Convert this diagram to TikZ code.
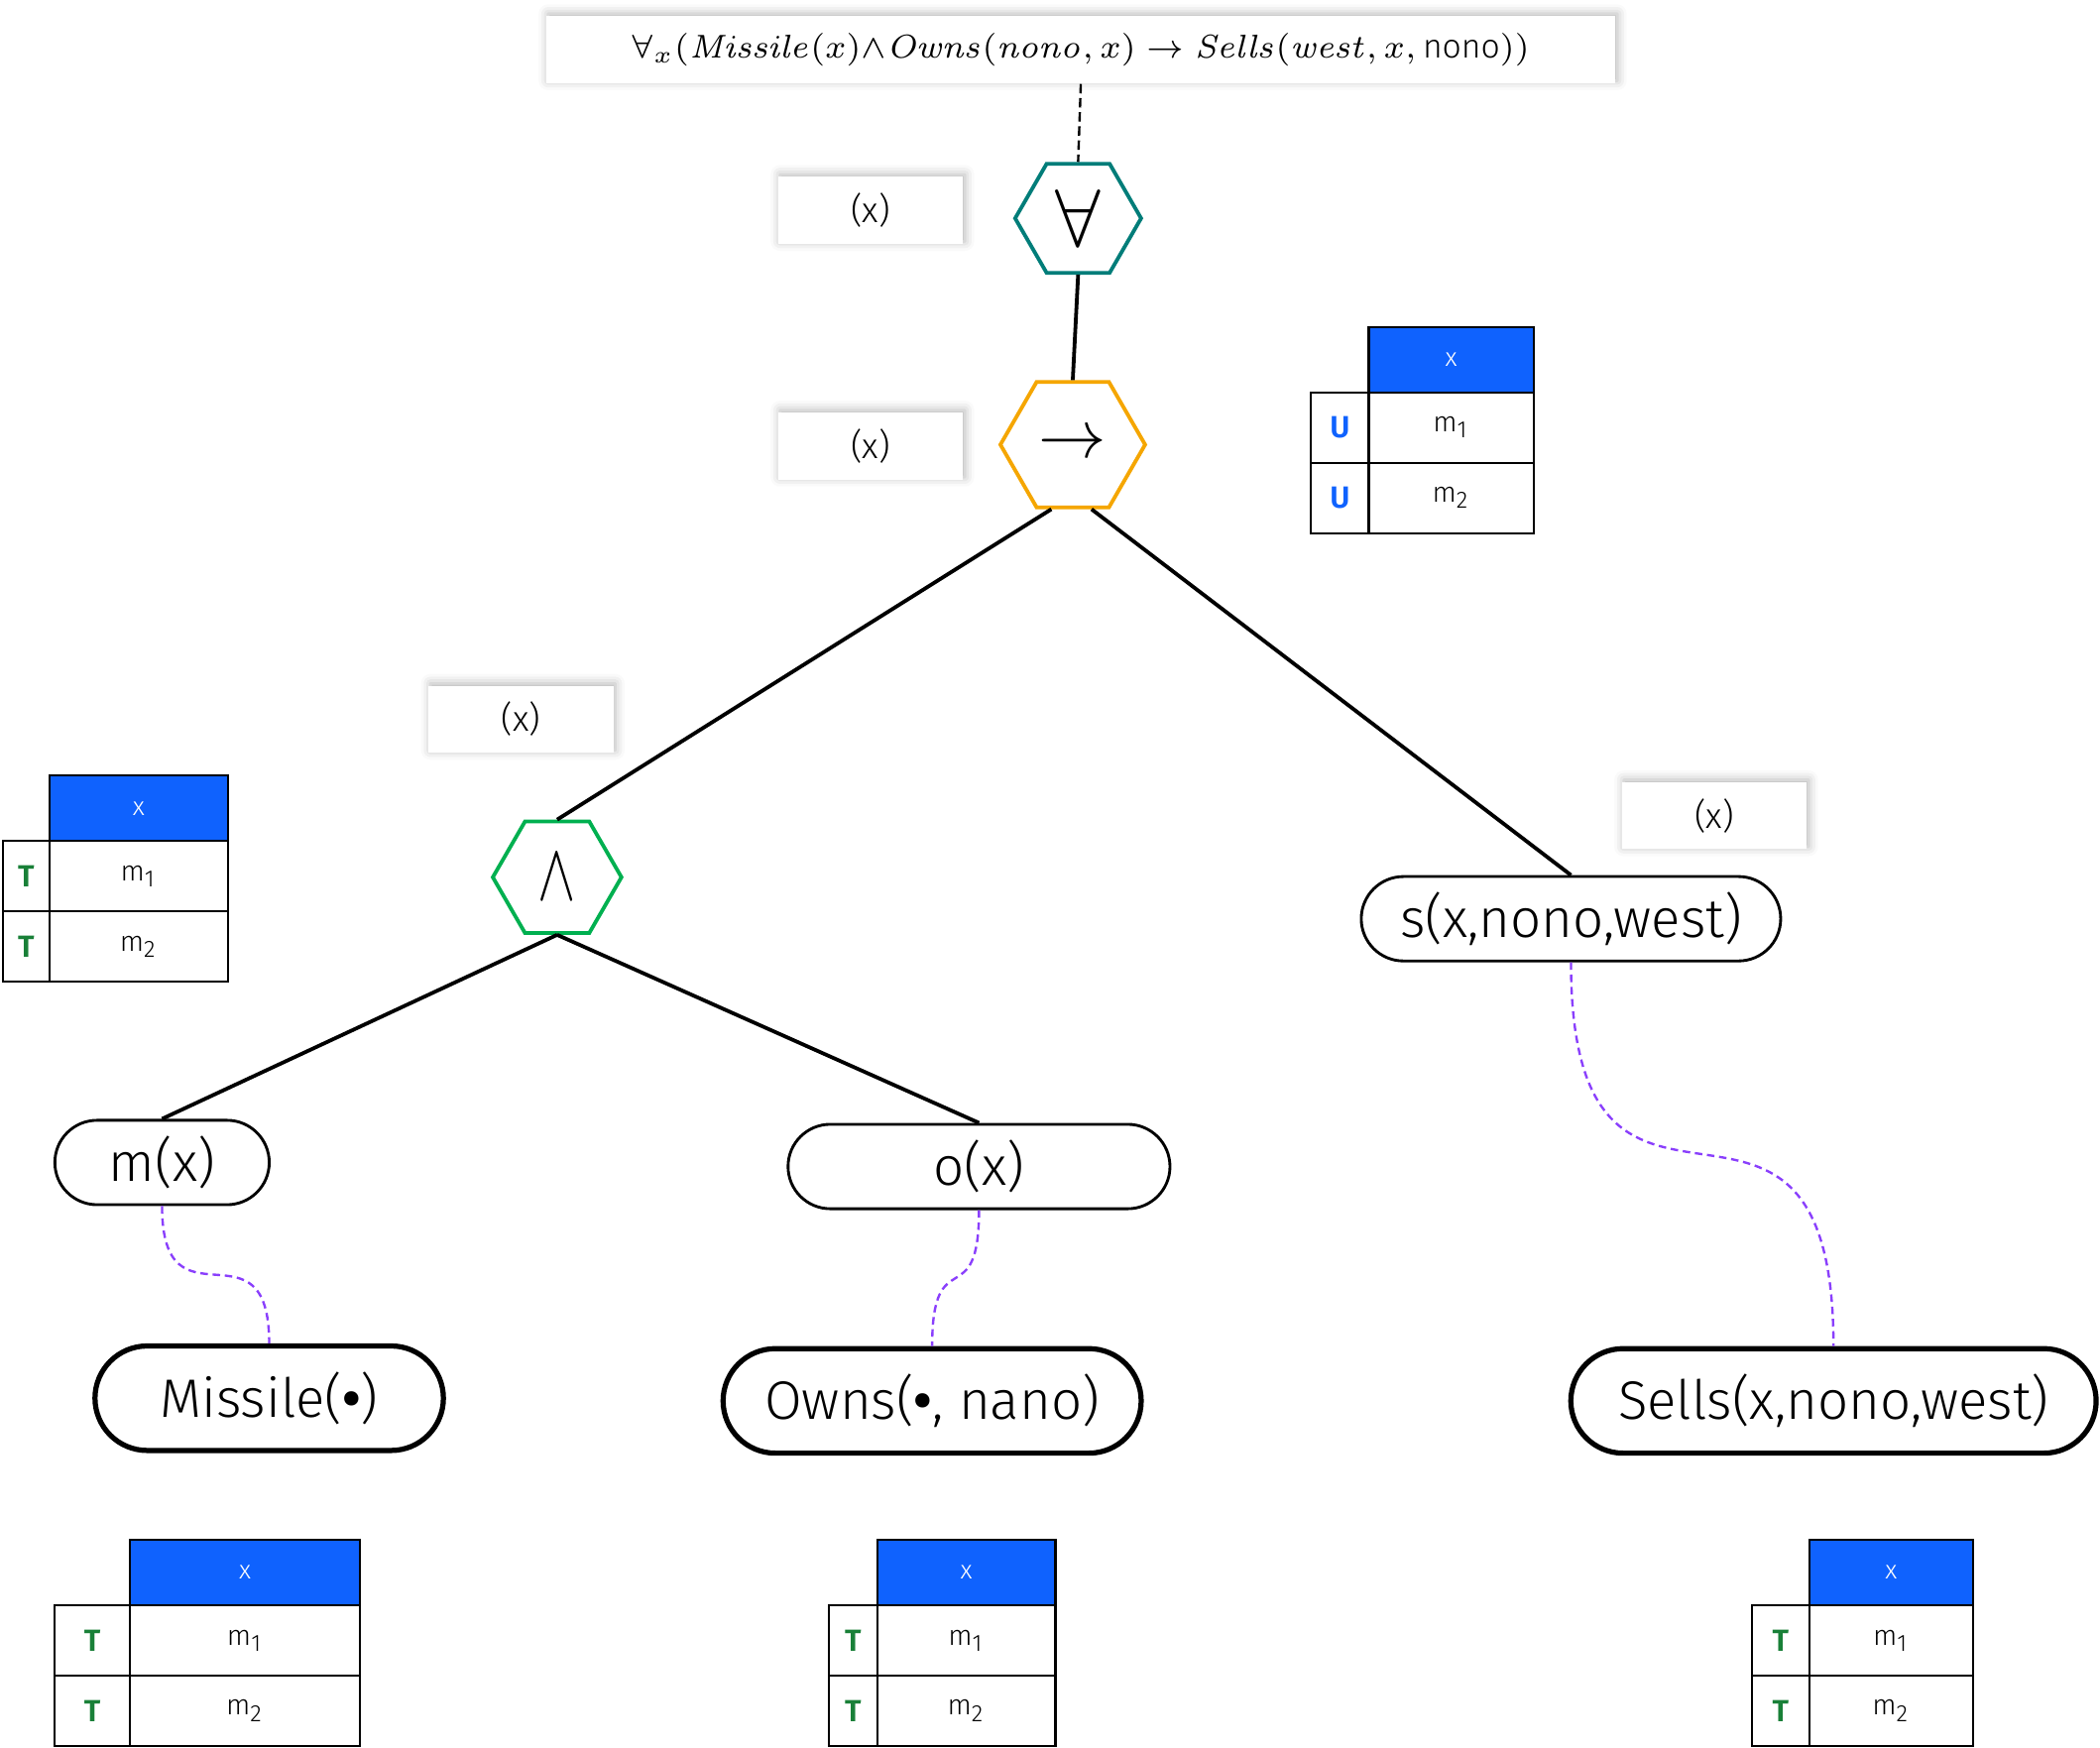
\documentclass[tikz,border=0pt]{standalone}
\usepackage[no-math]{fontspec}
\setmainfont{Fira Sans}[UprightFont=* Light,BoldFont=* SemiBold]
\usepackage{graphicx}
\usetikzlibrary{shapes.geometric,shapes.misc,positioning,calc,shadows.blur}

\definecolor{gateteal}{RGB}{0,125,121}
\definecolor{gateorange}{RGB}{245,166,0}
\definecolor{gategreen}{RGB}{0,176,80}
\definecolor{headblue}{RGB}{15,98,254}
\definecolor{truegreen}{RGB}{25,128,56}
\definecolor{groundpurple}{RGB}{138,63,252}

\tikzstyle{gate}=[regular polygon,regular polygon sides=6,draw,line width=0.8pt,inner sep=0pt,fill=white]
\tikzstyle{pred}=[rounded rectangle,draw,line width=0.6pt,inner sep=0pt,minimum height=0.63cm,font=\fontsize{11.5}{13}\selectfont]
\tikzstyle{fact}=[pred,line width=1.1pt,minimum height=0.78cm]
\tikzstyle{edge}=[draw,line width=0.8pt]
\tikzstyle{ground edge}=[draw,line width=0.5pt,groundpurple,dash pattern=on 1.6pt off 1pt]
\tikzstyle{vars}=[fill=white,minimum width=1.38cm,minimum height=0.5cm,inner sep=0pt,font=\fontsize{7.5}{9}\selectfont,
  blur shadow={shadow xshift=0.4pt,shadow yshift=0.5pt,shadow blur radius=2pt,shadow opacity=30}]
\tikzstyle{header}=[draw,fill=headblue,text=white,line width=0.45pt,inner sep=0pt,outer sep=0pt,minimum height=0.49cm,font=\fontsize{5.5}{6}\selectfont]
\tikzstyle{cell}=[draw,fill=white,line width=0.45pt,inner sep=0pt,outer sep=0pt,minimum height=0.525cm,font=\fontsize{6}{7}\selectfont]
\tikzstyle{flag cell}=[cell,font=\fontsize{6.5}{7}\selectfont\bfseries]

\begin{document}
\begin{tikzpicture}[x=0.01cm,y=-0.01cm]
     \useasboundingbox (0,0) rectangle (1568,1305);
     % formula on top
     \node[vars,minimum width=7.98cm,font=\fontsize{7.1}{9}\selectfont] (formula) at (807,37)
       {$\forall_x(\mathit{Missile}(x){\wedge}\mathit{Owns}(\mathit{nono},x)\rightarrow\mathit{Sells}(\mathit{west},x,\mbox{nono}))$};
     % the gates
     \node[gate,draw=gateteal,minimum size=0.94cm,font=\fontsize{16}{16}\selectfont] (fa) at (805,163) {$\forall$};
     \node[gate,draw=gateorange,minimum size=1.08cm,font=\fontsize{15}{15}\selectfont] (imp) at (801,332) {$\rightarrow$};
     \node[gate,draw=gategreen,minimum size=0.96cm,font=\fontsize{17}{17}\selectfont] (and) at (416,655) {\scalebox{0.7}[1]{$\wedge$}};
     % variable labels
     \foreach \pos/\name in {{(650,157)/vfa}, {(650,333)/vimp},
       {(389,537)/vand}, {(1280,609)/vs}}
     \node[vars] (\name) at \pos {(x)};
     % predicates and grounded facts
     \foreach \pos/\name/\w/\txt in {{(1173,686)/s/3.13/s(x,nono,west)},
       {(121,868)/mx/1.60/m(x)}, {(731,871)/ox/2.85/o(x)}}
     \node[pred,minimum width=\w cm] (\name) at \pos {\txt};
     \foreach \pos/\name/\w/\txt in {{(201,1044)/missile/2.60/Missile(\textbf{\textbullet})},
       {(696,1046)/owns/3.12/Owns(\textbf{\textbullet}, nano)}, {(1369,1046)/sells/3.92/Sells(x,nono,west)}}
     \node[fact,minimum width=\w cm] (\name) at \pos {\txt};
     % connect
     \path[draw,line width=0.5pt,dash pattern=on 2pt off 1pt] (formula.south) -- (fa.north);
     \path[edge] (fa.south) -- (imp.north);
     \path[edge] ($(imp.south)+(-16,0)$) -- (and.north);
     \path[edge] ($(imp.south)+(14,0)$) -- (s.north);
     \foreach \dest in {mx,ox}
     \path[edge] (and.south) -- (\dest.north);
     \foreach \source/\dest in {mx/missile, ox/owns, s/sells}
     \path[ground edge] (\source.south) to[out=-90,in=90,looseness=1.9] (\dest.north);
     % truth value tables
     \foreach \pos/\name/\lw/\vw/\flg/\col in {(103.5,603.5)/tl/0.35/1.33/T/truegreen,
       (1083.5,268.5)/tu/0.43/1.23/U/headblue, (183,1174)/tb/0.56/1.72/T/truegreen,
       (721.5,1174)/to/0.36/1.33/T/truegreen, (1412,1174)/ts/0.43/1.22/T/truegreen}
     {
     \node[header,minimum width=\vw cm] (\name-h) at \pos {x};
     \node[cell,minimum width=\vw cm,below=0pt of \name-h] (\name-1) {m\textsubscript{1}};
     \node[cell,minimum width=\vw cm,below=0pt of \name-1] (\name-2) {m\textsubscript{2}};
     \node[flag cell,minimum width=\lw cm,text=\col,left=0pt of \name-1] (\name-f1) {\flg};
     \node[flag cell,minimum width=\lw cm,text=\col,left=0pt of \name-2] (\name-f2) {\flg};
     }
\end{tikzpicture}
\end{document}
